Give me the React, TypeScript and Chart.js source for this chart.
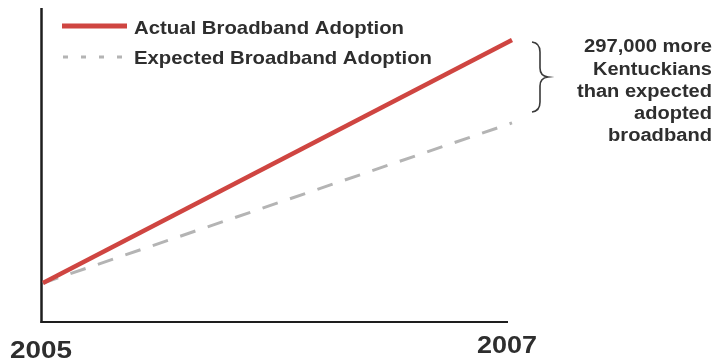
import React, { useEffect, useRef } from "react";
import { Chart, registerables } from "chart.js";

Chart.register(...registerables);

const years = [2005, 2007];
const actualAdoption = [12.4, 89.8];
const expectedAdoption = [12.4, 63.4];
const legendLabels = ["Actual Broadband Adoption", "Expected Broadband Adoption"];
const annotationLines = ["297,000 more", "Kentuckians", "than expected", "adopted", "broadband"];
const yearLabels = ["2005", "2007"];

const RED = "#cf4541";
const GREY = "#b4b4b4";
const INK = "#2e2e2e";
const FONT = '"Liberation Sans", Arial, Helvetica, sans-serif';

function fitText(
  ctx: CanvasRenderingContext2D,
  text: string,
  x: number,
  y: number,
  size: number,
  width: number,
  align: "left" | "right"
) {
  ctx.font = `bold ${size}px ${FONT}`;
  const w = ctx.measureText(text).width;
  const sx = width / w;
  ctx.save();
  ctx.translate(align === "right" ? x - width : x, y);
  ctx.scale(sx, 1);
  ctx.textAlign = "left";
  ctx.textBaseline = "alphabetic";
  ctx.fillStyle = INK;
  ctx.fillText(text, 0, 0);
  ctx.restore();
}

const decorPlugin = {
  id: "decor",
  beforeDatasetsDraw(chart: any) {
    const ctx: CanvasRenderingContext2D = chart.ctx;
    const area = chart.chartArea;
    ctx.save();
    ctx.strokeStyle = "#1e1e1e";
    ctx.lineCap = "butt";
    // y axis
    ctx.lineWidth = 2.5;
    ctx.beginPath();
    ctx.moveTo(area.left - 1.5, area.top);
    ctx.lineTo(area.left - 1.5, area.bottom + 1);
    ctx.stroke();
    // x axis
    ctx.lineWidth = 2;
    ctx.beginPath();
    ctx.moveTo(area.left - 2.5, area.bottom);
    ctx.lineTo(area.right - 4, area.bottom);
    ctx.stroke();
    ctx.restore();
  },
  afterDraw(chart: any) {
    const ctx: CanvasRenderingContext2D = chart.ctx;
    const ds = chart.data.datasets;
    ctx.save();
    // legend samples
    ctx.strokeStyle = ds[0].borderColor;
    ctx.lineWidth = 5;
    ctx.beginPath();
    ctx.moveTo(62, 26);
    ctx.lineTo(127, 26);
    ctx.stroke();
    ctx.strokeStyle = ds[1].borderColor;
    ctx.lineWidth = 3;
    ctx.setLineDash([5, 13]);
    ctx.beginPath();
    ctx.moveTo(63, 57);
    ctx.lineTo(124, 57);
    ctx.stroke();
    ctx.setLineDash([]);
    // legend texts
    fitText(ctx, ds[0].label, 134, 34, 19, 270, "left");
    fitText(ctx, ds[1].label, 134, 64, 19, 298, "left");

    // annotation
    const annWidths = [128, 119, 135, 78, 104];
    const annBase = [52, 74.5, 97, 119, 141];
    annotationLines.forEach((t, i) => fitText(ctx, t, 712, annBase[i], 18, annWidths[i], "right"));

    // brace
    ctx.strokeStyle = "#3a3a3a";
    ctx.lineWidth = 1.6;
    ctx.beginPath();
    ctx.moveTo(532, 42);
    ctx.quadraticCurveTo(540, 43, 540, 52);
    ctx.lineTo(540, 68);
    ctx.quadraticCurveTo(540, 76, 548, 77);
    ctx.quadraticCurveTo(540, 78, 540, 86);
    ctx.lineTo(540, 102);
    ctx.quadraticCurveTo(540, 111, 532, 112);
    ctx.stroke();

    // year labels
    fitText(ctx, yearLabels[0], 10, 358, 24, 62, "left");
    fitText(ctx, yearLabels[1], 477, 353, 24, 60, "left");
    ctx.restore();
  },
};

export default function App() {
  const ref = useRef<HTMLCanvasElement | null>(null);
  useEffect(() => {
    if (!ref.current) return;
    const chart = new Chart(ref.current, {
      type: "line",
      data: {
        datasets: [
          {
            label: legendLabels[0],
            data: years.map((y, i) => ({ x: y, y: actualAdoption[i] })),
            borderColor: RED,
            borderWidth: 4.5,
            pointRadius: 0,
            clip: 6,
            order: 1,
          },
          {
            label: legendLabels[1],
            data: years.map((y, i) => ({ x: y, y: expectedAdoption[i] })),
            borderColor: GREY,
            borderWidth: 3,
            borderDash: [16, 13],
            pointRadius: 0,
            clip: 6,
            order: 2,
          },
        ],
      },
      options: {
        responsive: false,
        animation: false,
        layout: { padding: { left: 43, right: 203, top: 8, bottom: 38 } },
        scales: {
          x: { type: "linear", min: years[0], max: years[1], display: false },
          y: { min: 0, max: 100, display: false },
        },
        plugins: { legend: { display: false }, tooltip: { enabled: false } },
      },
      plugins: [decorPlugin],
    });
    return () => chart.destroy();
  }, []);
  return (
    <div style={{ position: "absolute", left: 0, top: 0, width: 715, height: 360, background: "#fff" }}>
      <canvas ref={ref} width={715} height={360} style={{ display: "block" }} />
    </div>
  );
}
